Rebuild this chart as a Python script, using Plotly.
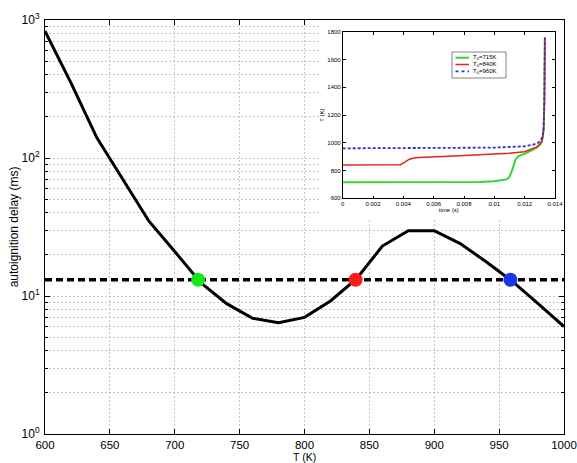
import plotly.graph_objects as go

# ---------------- main chart data ----------------
temperature_K = [600, 620, 640, 660, 680, 700, 720, 740, 760, 780, 800,
                 820, 840, 860, 880, 900, 920, 940, 960, 980, 1000]
delay_ms = [830, 350, 140, 70, 35, 21, 12.5, 8.8, 6.9, 6.4, 7.0,
            9.2, 13.3, 23, 29.7, 29.7, 24, 17.7, 12.8, 8.8, 6.0]

threshold_delay_ms = 13.1
threshold_T_range = [600, 1000]

marker_T = [718, 839.4, 958.7]
marker_colors = ["#16e816", "#ff1a1a", "#1a35f0"]

x_ticks = [600, 650, 700, 750, 800, 850, 900, 950, 1000]
y_ticks = [1, 10, 100, 1000]
y_ticktext = ["10<sup>0</sup>", "10<sup>1</sup>", "10<sup>2</sup>", "10<sup>3</sup>"]
y_minor = [m * d for d in (1, 10, 100) for m in range(2, 10)]

# ---------------- inset data ----------------
t_715 = [0, 0.002, 0.004, 0.006, 0.008, 0.009, 0.0100, 0.0105, 0.0108,
         0.0110, 0.0112, 0.0114, 0.0116, 0.0120, 0.0125, 0.0128, 0.0130,
         0.0131, 0.0132, 0.01325, 0.0133, 0.01333]
T_715 = [715, 715, 715, 715, 716, 718, 722, 728, 736,
         755, 810, 880, 905, 920, 945, 965, 985,
         1000, 1040, 1100, 1300, 1745]

t_840 = [0, 0.002, 0.0038, 0.0041, 0.0044, 0.0047, 0.005, 0.007, 0.009,
         0.011, 0.012, 0.0125, 0.0128, 0.0130, 0.0131, 0.0132, 0.01325,
         0.0133, 0.01333]
T_840 = [840, 840, 842, 860, 882, 890, 893, 903, 913,
         925, 935, 955, 970, 990, 1005, 1045, 1100,
         1300, 1755]

t_960 = [0, 0.002, 0.004, 0.006, 0.008, 0.010, 0.011, 0.012, 0.0125,
         0.0128, 0.0130, 0.0131, 0.0132, 0.01325, 0.0133, 0.01333]
T_960 = [960, 960, 960, 960, 961, 965, 970, 975, 985,
         995, 1010, 1025, 1060, 1110, 1300, 1765]

inset_x_ticks = [0, 0.002, 0.004, 0.006, 0.008, 0.01, 0.012, 0.014]
inset_x_ticktext = ["0", "0.002", "0.004", "0.006", "0.008", "0.01", "0.012", "0.014"]
inset_y_ticks = [600, 800, 1000, 1200, 1400, 1600, 1800]

legend_labels = ["T<sub>0</sub>=715K", "T<sub>0</sub>=840K", "T<sub>0</sub>=960K"]
inset_colors = ["#33d633", "#e82020", "#3030d0"]
inset_widths = [2, 1.5, 1.8]
inset_dashes = ["solid", "solid", "3px,2px"]

FONT = "Liberation Sans, Arial, sans-serif"
GRID = "#c4c4c4"
GRID_DASH = "2px,2px"

# figure geometry (pixels) -> paper coordinates helpers
W, H = 577, 463
ML, MR, MT, MB = 45, 13, 20, 29
PW, PH = W - ML - MR, H - MT - MB


def px(x):
    return (x - ML) / PW


def py(y):
    return (H - MB - y) / PH


fig = go.Figure()

# main curve
fig.add_trace(go.Scatter(x=temperature_K, y=delay_ms, mode="lines",
                         line=dict(color="black", width=3),
                         showlegend=False, hoverinfo="skip"))
# threshold dashed line
fig.add_trace(go.Scatter(x=threshold_T_range,
                         y=[threshold_delay_ms] * len(threshold_T_range),
                         mode="lines",
                         line=dict(color="black", width=3.5, dash="7px,4px"),
                         showlegend=False, hoverinfo="skip"))
# markers
fig.add_trace(go.Scatter(x=marker_T, y=[threshold_delay_ms] * len(marker_T),
                         mode="markers",
                         marker=dict(color=marker_colors, size=14, line=dict(width=0)),
                         showlegend=False, hoverinfo="skip"))

# dummy subplot to whiten the inset region
fig.add_trace(go.Scatter(x=[None], y=[None], xaxis="x2", yaxis="y2",
                         showlegend=False, hoverinfo="skip"))

# inset traces
for t, T, c, w, d in zip([t_715, t_840, t_960], [T_715, T_840, T_960],
                         inset_colors, inset_widths, inset_dashes):
    fig.add_trace(go.Scatter(x=t, y=T, xaxis="x3", yaxis="y3", mode="lines",
                             line=dict(color=c, width=w, dash=d),
                             showlegend=False, hoverinfo="skip"))

# hand-drawn compact legend for the inset
shapes = [dict(type="rect", xref="paper", yref="paper",
               x0=px(452), x1=px(506), y0=py(78), y1=py(52),
               line=dict(color="#333333", width=0.6), fillcolor="white",
               layer="above")]
annotations = []
row_y = [57.7, 64.5, 71.3]
for yy, lab, c, w, d in zip(row_y, legend_labels, inset_colors, inset_widths, inset_dashes):
    shapes.append(dict(type="line", xref="paper", yref="paper",
                       x0=px(455.5), x1=px(469), y0=py(yy), y1=py(yy),
                       line=dict(color=c, width=w, dash="dot" if d != "solid" else "solid"),
                       layer="above"))
    annotations.append(dict(text=lab, xref="paper", yref="paper",
                            x=px(471), y=py(yy), xanchor="left", yanchor="middle",
                            showarrow=False, font=dict(size=6, family=FONT)))

# x-axis title as an annotation at the very bottom
annotations.append(dict(text="T (K)", xref="paper", yref="paper",
                        x=0.5, y=py(463.5), xanchor="center", yanchor="bottom",
                        showarrow=False, font=dict(size=10.5, family=FONT),
                        borderpad=0))

fig.update_layout(
    width=W, height=H,
    margin=dict(l=ML, r=MR, t=MT, b=MB),
    paper_bgcolor="white", plot_bgcolor="white",
    font=dict(family=FONT, size=12, color="black"),
    showlegend=False,
    shapes=shapes,
    annotations=annotations,
    xaxis=dict(range=[600, 1000], tickvals=x_ticks, automargin=False,
               showgrid=True, gridcolor=GRID, griddash=GRID_DASH, gridwidth=1,
               showline=True, linecolor="black", linewidth=1, mirror="ticks",
               ticks="inside", ticklen=5, tickcolor="black", zeroline=False,
               tickfont=dict(size=11.5), ticklabelstandoff=0,
               ticklabeloverflow="allow"),
    yaxis=dict(type="log", range=[0, 3], tickvals=y_ticks, ticktext=y_ticktext,
               automargin=False,
               showgrid=True, gridcolor=GRID, griddash=GRID_DASH, gridwidth=1,
               showline=True, linecolor="black", linewidth=1, mirror="ticks",
               ticks="inside", ticklen=5, tickcolor="black", zeroline=False,
               tickfont=dict(size=12), ticklabelstandoff=2,
               ticklabeloverflow="allow",
               minor=dict(tickvals=y_minor, showgrid=True, gridcolor=GRID,
                          griddash=GRID_DASH, ticks="inside", ticklen=3,
                          tickcolor="black"),
               title=dict(text="autoignition delay (ms)", font=dict(size=12),
                          standoff=0)),
    xaxis2=dict(domain=[px(321), 1.0], anchor="y2", visible=False, range=[0, 1]),
    yaxis2=dict(domain=[py(218), 1.0], anchor="x2", visible=False, range=[0, 1]),
    xaxis3=dict(domain=[px(342.7), px(555)], anchor="y3", range=[0, 0.014],
                tickvals=inset_x_ticks, ticktext=inset_x_ticktext,
                showgrid=False, zeroline=False, automargin=False,
                showline=True, linecolor="black", linewidth=0.6, mirror="ticks",
                ticks="inside", ticklen=3, tickcolor="black",
                tickfont=dict(size=6), ticklabeloverflow="allow",
                title=dict(text="time (s)", font=dict(size=6), standoff=1)),
    yaxis3=dict(domain=[py(198.3), py(31.7)], anchor="x3", range=[600, 1800],
                tickvals=inset_y_ticks, automargin=False,
                showgrid=False, zeroline=False,
                showline=True, linecolor="black", linewidth=0.6, mirror="ticks",
                ticks="inside", ticklen=3, tickcolor="black",
                tickfont=dict(size=6), ticklabeloverflow="allow",
                title=dict(text="T (K)", font=dict(size=6), standoff=2)),
)

fig.write_html("out.html",
               config={"displayModeBar": False},
               post_script="document.body.style.margin='0';"
                           "document.body.style.overflow='hidden';")
